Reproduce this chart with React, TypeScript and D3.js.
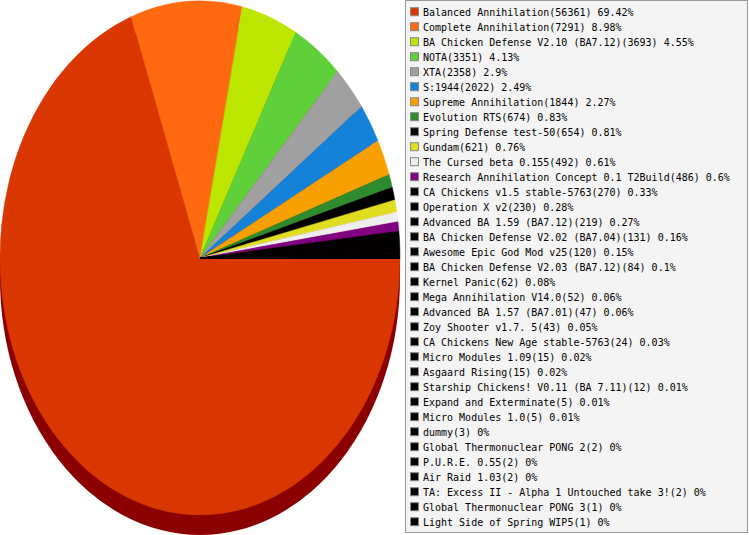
import React, { useEffect, useRef } from 'react';
import * as d3 from 'd3';

const mods = [
  'Balanced Annihilation', 'Complete Annihilation', 'BA Chicken Defense V2.10 (BA7.12)', 'NOTA', 'XTA',
  'S:1944', 'Supreme Annihilation', 'Evolution RTS', 'Spring Defense test-50', 'Gundam',
  'The Cursed beta 0.155', 'Research Annihilation Concept 0.1 T2Build', 'CA Chickens v1.5 stable-5763',
  'Operation X v2', 'Advanced BA 1.59 (BA7.12)', 'BA Chicken Defense V2.02 (BA7.04)',
  'Awesome Epic God Mod v25', 'BA Chicken Defense V2.03 (BA7.12)', 'Kernel Panic', 'Mega Annihilation V14.0',
  'Advanced BA 1.57 (BA7.01)', 'Zoy Shooter v1.7. 5', 'CA Chickens New Age stable-5763', 'Micro Modules 1.09',
  'Asgaard Rising', 'Starship Chickens! V0.11 (BA 7.11)', 'Expand and Exterminate', 'Micro Modules 1.0',
  'dummy', 'Global Thermonuclear PONG 2', 'P.U.R.E. 0.55', 'Air Raid 1.03',
  'TA: Excess II - Alpha 1 Untouched take 3!', 'Global Thermonuclear PONG 3', 'Light Side of Spring WIP5',
];

const games = [
  56361, 7291, 3693, 3351, 2358, 2022, 1844, 674, 654, 621, 492, 486, 270, 230, 219, 131, 120, 84, 62, 52,
  47, 43, 24, 15, 15, 12, 5, 5, 3, 2, 2, 2, 2, 1, 1,
];

const colors = [
  '#d93600', '#ff6a10', '#bce600', '#5fd03a', '#a0a0a0', '#1482d8', '#f8a000', '#2e8b2e', '#000000',
  '#e0dc20', '#eeeeee', '#800080',
];

const App = () => {
  const ref = useRef(null);

  useEffect(() => {
    const svg = d3.select(ref.current);
    svg.selectAll('*').remove();

    const cx = 200, cy = 258, rx = 200, ry = 257, depth = 20;
    const total = d3.sum(games);
    const data = mods.map((m, i) => ({ name: m, value: games[i], color: colors[i] || '#000000' }));

    // 3d side of the pie
    const side = svg.append('g');
    side.append('rect')
      .attr('x', cx - rx).attr('y', cy)
      .attr('width', rx * 2).attr('height', depth)
      .attr('fill', '#8b0000');
    side.append('ellipse')
      .attr('cx', cx).attr('cy', cy + depth)
      .attr('rx', rx).attr('ry', ry)
      .attr('fill', '#8b0000');

    const pie = d3.pie()
      .value(d => d.value)
      .sort(null)
      .startAngle(Math.PI / 2)
      .endAngle(Math.PI / 2 + 2 * Math.PI);

    const arc = d3.arc().innerRadius(0).outerRadius(rx);

    svg.append('g')
      .attr('transform', `translate(${cx},${cy}) scale(1,${ry / rx})`)
      .selectAll('path')
      .data(pie(data))
      .enter().append('path')
      .attr('d', arc)
      .attr('fill', d => d.data.color)
      .attr('stroke', d => d.data.color)
      .attr('stroke-width', 0.4)
      .attr('stroke-linejoin', 'round');

    // legend
    const lg = svg.append('g');
    lg.append('rect')
      .attr('x', 405.5).attr('y', 0.5)
      .attr('width', 342).attr('height', 532)
      .attr('fill', '#f4f4f4')
      .attr('stroke', '#999999');

    const rowY = d3.scaleLinear().domain([0, 34]).range([11.7, 521.7]);

    const rows = lg.selectAll('g.row')
      .data(data)
      .enter().append('g')
      .attr('class', 'row')
      .attr('transform', (d, i) => `translate(0,${rowY(i)})`);

    rows.append('rect')
      .attr('x', 410.5).attr('y', -4)
      .attr('width', 8).attr('height', 8)
      .attr('fill', d => d.color)
      .attr('stroke', '#888888');

    rows.append('text')
      .attr('x', 423)
      .attr('y', 4.3 / 1.12)
      .attr('transform', 'scale(1,1.12)')
      .style('font-family', '"DejaVu Sans Mono", monospace')
      .style('font-size', '10px')
      .style('fill', '#000')
      .text(d => `${d.name}(${d.value}) ${Math.round(d.value / total * 10000) / 100}%`);
  }, []);

  return (
    <svg ref={ref} width={749} height={535} style={{ position: 'absolute', left: 0, top: 0 }}></svg>
  );
};

export default App;
